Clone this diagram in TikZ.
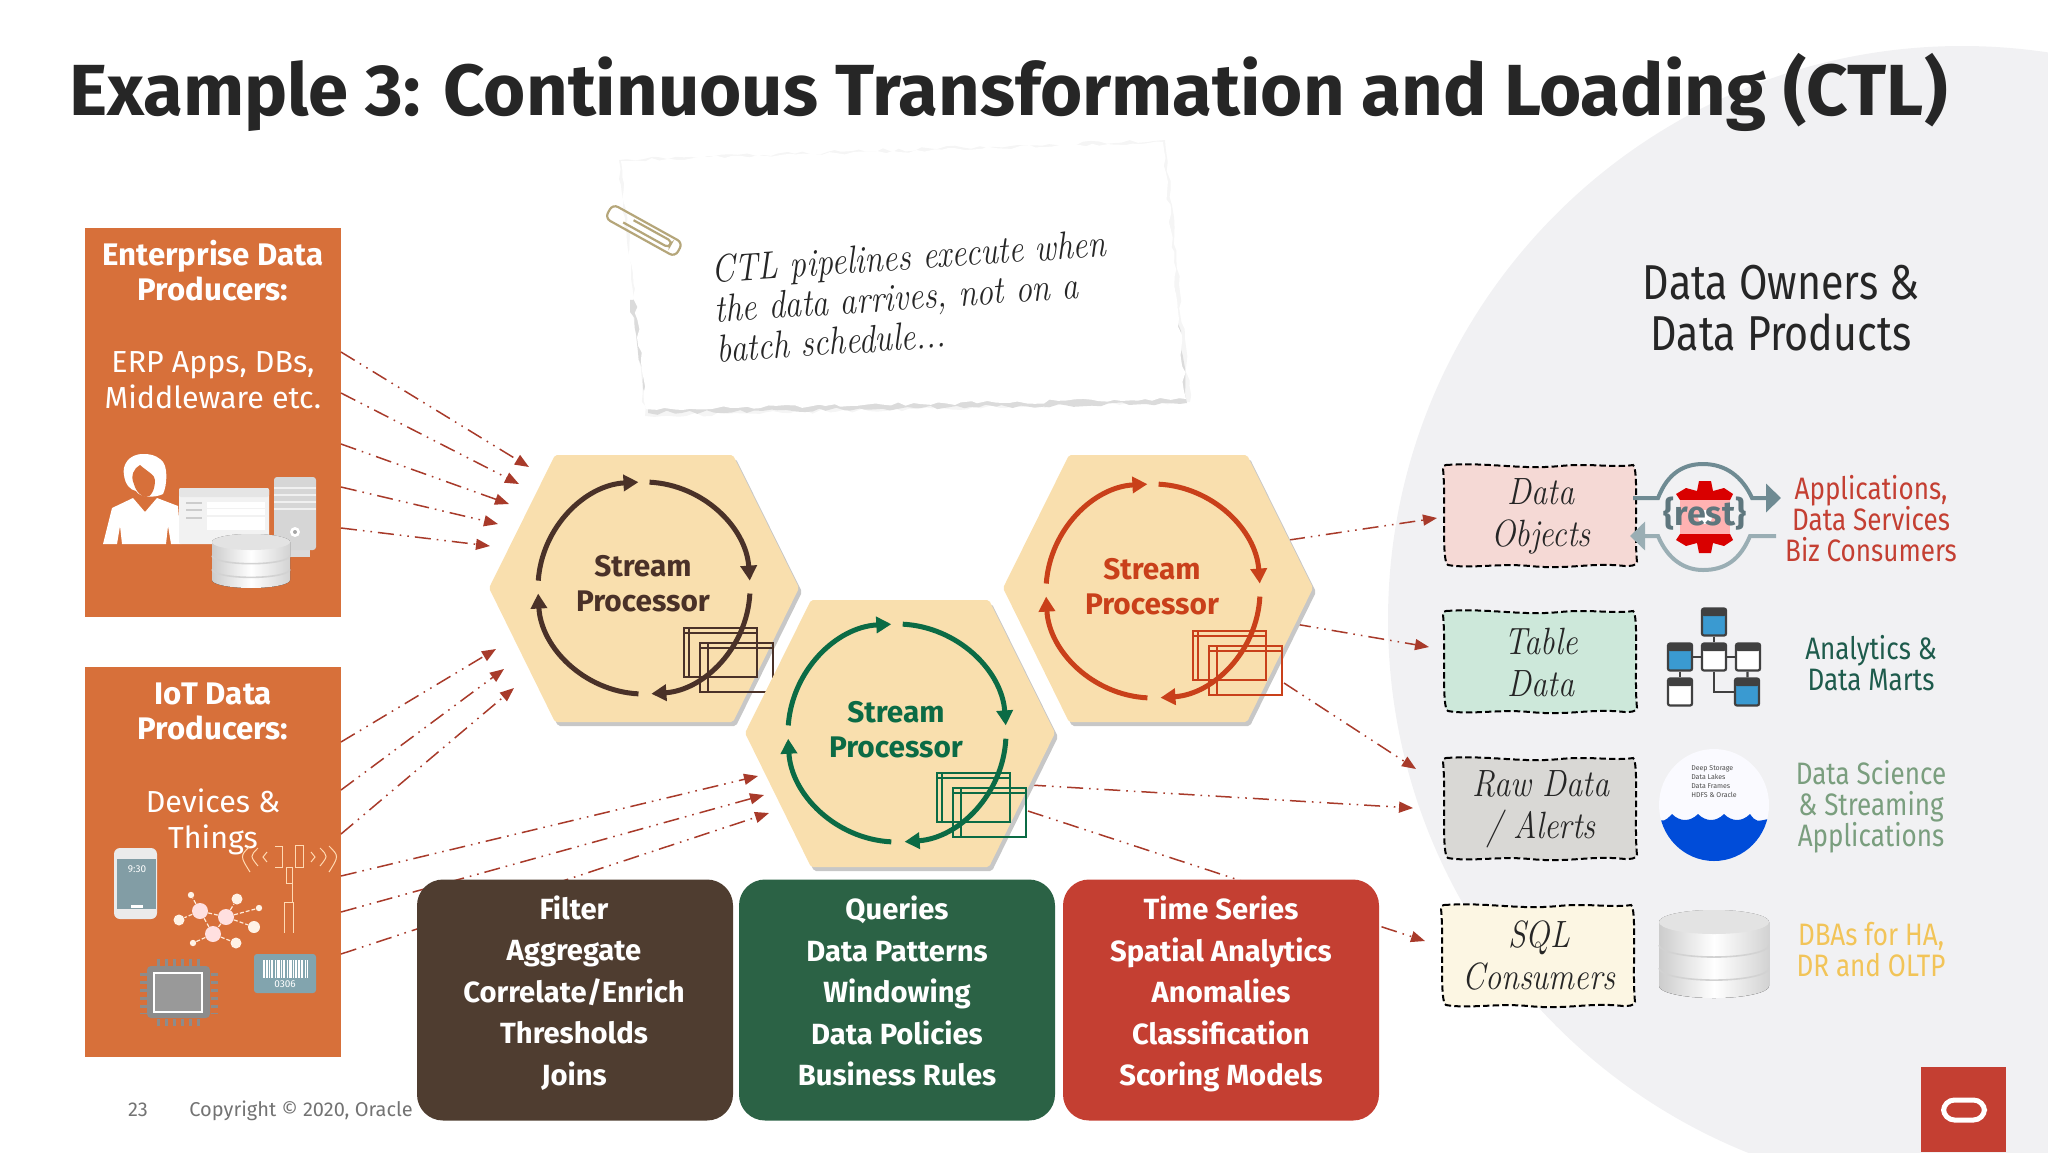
\documentclass[tikz,border=0pt]{standalone}
\usepackage{fontspec}
\setmainfont{Fira Sans}
\newfontfamily\handfont{Latin Modern Roman}[FakeStretch=0.85]
\newfontfamily\ownerfont{Fira Sans}[FakeStretch=0.84]
\usepackage{tikz}
\usetikzlibrary{arrows.meta}
\usetikzlibrary{calc}
\usetikzlibrary{decorations.pathmorphing}

\definecolor{producer_orange}{HTML}{D7703A}
\definecolor{hex_fill}{HTML}{F9DFAE}
\definecolor{flow_red}{HTML}{A83A2A}
\definecolor{sp_brown}{HTML}{4A3128}
\definecolor{sp_green}{HTML}{0B6B45}
\definecolor{sp_red}{HTML}{C9401A}
\definecolor{box_brown}{HTML}{4F3D30}
\definecolor{box_green}{HTML}{2B6245}
\definecolor{box_red}{HTML}{C43F32}
\definecolor{owner_gray}{HTML}{F1F1F3}
\definecolor{rest_teal}{HTML}{6F8B93}
\definecolor{net_blue}{HTML}{3A9AD1}
\definecolor{clip_tan}{HTML}{B5A67A}
\definecolor{label_teal}{HTML}{1E5B4C}
\definecolor{label_sage}{HTML}{7A9E7E}
\definecolor{label_gold}{HTML}{F2C458}
\definecolor{fill_pink}{HTML}{F5D9D5}
\definecolor{fill_mint}{HTML}{CDE8DA}
\definecolor{fill_stone}{HTML}{D9D8D5}
\definecolor{fill_cream}{HTML}{FCF6E3}
\definecolor{barcode_teal}{HTML}{82A4AE}

\newcommand{\streamhex}[6]{%
        \fill[hex_shadow] ($(#2)+(-152,4)$) -- ++(66,-133) -- ++(178,0) -- ++(66,133) -- ++(-66,134) -- ++(-178,0) -- cycle;
        \fill[hex_style] ($(#2)+(-155,0)$) -- ++(66,-133) -- ++(178,0) -- ++(66,133) -- ++(-66,134) -- ++(-178,0) -- cycle;
        \coordinate (#1) at (#3);
        \draw[loop_style,draw=#5] ($(#1)+(-87:#4)$) arc[start angle=-87,end angle=-4,radius=#4];
        \draw[loop_style,draw=#5] ($(#1)+(3:#4)$) arc[start angle=3,end angle=86,radius=#4];
        \draw[loop_style,draw=#5] ($(#1)+(93:#4)$) arc[start angle=93,end angle=177,radius=#4];
        \draw[loop_style,draw=#5] ($(#1)+(184:#4)$) arc[start angle=184,end angle=267,radius=#4];
        \node[processor_text,text=#5] (#1_text) at ($(#1)+(-1,#6)$) {Stream\\Processor};
        \draw[window_style,draw=#5] ($(#1)+(40,40)$) rectangle ($(#1)+(113,89)$);
        \draw[window_style,draw=#5] ($(#1)+(45,40)$) -- ($(#1)+(45,89)$) ($(#1)+(40,45)$) -- ($(#1)+(113,45)$);
        \draw[window_style,draw=#5] ($(#1)+(56,55)$) rectangle ($(#1)+(129,104)$);
        \draw[window_style,draw=#5] ($(#1)+(64,55)$) -- ($(#1)+(64,104)$) ($(#1)+(56,60)$) -- ($(#1)+(129,60)$);
}

\newcommand{\dbstack}[4]{%
        \begin{scope}[shift={(#1)}]
                \fill[left color=gray!40,right color=gray!35,middle color=white] (-#2,0) -- (-#2,#3) arc[start angle=180,end angle=0,x radius=#2,y radius=#4] -- (#2,0) arc[start angle=0,end angle=-180,x radius=#2,y radius=#4] -- cycle;
                \fill[gray!22] (0,0) ellipse[x radius=#2,y radius=#4];
                \draw[gray!35,line width=0.8pt] (-#2,#3*0.36) arc[start angle=180,end angle=0,x radius=#2,y radius=#4];
                \draw[gray!35,line width=0.8pt] (-#2,#3*0.72) arc[start angle=180,end angle=0,x radius=#2,y radius=#4];
        \end{scope}
}

\newcommand{\tablebox}[4]{%
        \node[table_body,fill=#4] (#1) at (#2,#3) {};
        \fill[black!75,rounded corners=1pt] (#2-12,#3-14) rectangle (#2+12,#3-6);
}

\newcommand{\wobblebox}[4]{%
        \begin{scope}[shift={(#2)}]
                \draw[wobble_style,fill=#3] (-94,-51) .. controls (-50,-54) and (-20,-46) .. (20,-50) .. controls (50,-53) and (75,-48) .. (93,-51) .. controls (99,-48) and (94,20) .. (97,46) .. controls (96,50) and (90,50) .. (85,50) .. controls (50,46) and (30,54) .. (-10,50) .. controls (-40,47) and (-70,53) .. (-92,49) .. controls (-99,47) and (-94,-20) .. (-97,-47) .. controls (-97,-50) and (-96,-51) .. (-94,-51) -- cycle;
                \node[hand_text] (#1) at (1,0) {#4};
        \end{scope}
}

\begin{document}
\begin{tikzpicture}[x=0.5pt,y=-0.5pt,
        hex_style/.style={fill=hex_fill,rounded corners=1pt},
        hex_shadow/.style={fill=black!22,rounded corners=1pt},
        loop_style/.style={line width=2.5pt,-{Triangle[length=7.5pt,width=8pt]}},
        window_style/.style={line width=0.7pt},
        processor_text/.style={align=center,font=\bfseries\fontsize{14.9}{17.5}\selectfont},
        flow_arrow/.style={draw=flow_red,line width=0.75pt,dash pattern=on 8pt off 3pt on 0.8pt off 3pt on 0.8pt off 3pt,-{Triangle[length=7pt,width=5.5pt]}},
        producer_box/.style={fill=producer_orange,minimum width=128pt,anchor=north west,inner sep=0pt},
        producer_head/.style={text=white,align=center,font=\bfseries\fontsize{15.6}{17.5}\selectfont},
        producer_body/.style={text=white,align=center,font=\fontsize{15.2}{18}\selectfont},
        task_box/.style={rounded corners=13pt,minimum width=158pt,minimum height=120.5pt,inner sep=0pt},
        task_text/.style={text=white,align=center,font=\bfseries\fontsize{14.6}{20.8}\selectfont},
        wobble_style/.style={draw=black,line width=1pt,dash pattern=on 3.2pt off 1.6pt},
        hand_text/.style={align=center,text=black!85,font=\handfont\itshape\fontsize{19}{21}\selectfont},
        owner_text/.style={align=center,font=\ownerfont\fontsize{15.5}{15.5}\selectfont},
        table_body/.style={draw=black!75,line width=1.1pt,rounded corners=1pt,minimum width=12pt,minimum height=13.5pt,inner sep=0pt},
        table_link/.style={draw=black!75,line width=1.1pt},
        net_big/.style={circle,fill=red!12!white,minimum size=8pt,inner sep=0pt},
        net_small/.style={circle,fill=white!90!orange,inner sep=0pt},
        net_link/.style={draw=white!85!orange,line width=0.6pt,dash pattern=on 2pt off 1pt},
        antenna_line/.style={draw=orange!30!white,line width=0.5pt}]

        \clip (0,0) rectangle (2048,1152);
        \useasboundingbox (0,0) rectangle (2048,1152);

        \fill[owner_gray] (1962,620) circle[radius=574];

        \node[anchor=base west,inner sep=0pt,text=black!85,font=\bfseries\fontsize{36.2}{40}\selectfont] (title) at (69,115) {Example 3: Continuous Transformation and Loading (CTL)};

        \node[anchor=base,text=black!55,font=\fontsize{10}{12}\selectfont] (page_no) at (138,1116) {23};
        \node[anchor=base west,inner sep=0pt,text=black!55,font=\fontsize{10}{12}\selectfont] (copyright) at (189,1116) {Copyright © 2020, Oracle};

        \pgfmathsetseed{7}
        \fill[black!4,decorate,decoration={random steps,segment length=4pt,amplitude=1pt}] (619,160) -- (1165,140) -- (1190,402) -- (645,416) -- cycle;
        \pgfmathsetseed{7}
        \fill[black!14,decorate,decoration={random steps,segment length=4pt,amplitude=1pt}] (630,300) -- (1175,290) -- (1187,403) -- (648,413) -- cycle;
        \pgfmathsetseed{9}
        \fill[white,decorate,decoration={random steps,segment length=4pt,amplitude=1pt}] (621,161) -- (1163,142) -- (1186,399) -- (646,409) -- cycle;
        \node[anchor=west,inner sep=0pt,rotate=3.8,align=left,text=black!85,font=\handfont\itshape\fontsize{19.5}{20}\selectfont] (note_text) at (714,309) {CTL pipelines execute when\\the data arrives, not on a\\batch schedule...};

        \draw[draw=clip_tan,line width=1.1pt,rounded corners=3pt,rotate around={-29:(643,230)}] (604,222) rectangle (684,238);
        \draw[draw=clip_tan,line width=1.1pt,rounded corners=2pt,rotate around={-29:(643,230)}] (630,226) -- (674,226) -- (674,233) -- (622,233);

        \node[producer_box,minimum height=194.5pt] (enterprise) at (85,228) {};
        \node[producer_box,minimum height=195pt] (iot) at (85,667) {};

        \node[producer_head] (enterprise_head) at (213,271) {Enterprise Data\\Producers:};
        \node[producer_body] (enterprise_body) at (213,380) {ERP Apps, DBs,\\Middleware etc.};
        \node[producer_head] (iot_head) at (213,711) {IoT Data\\Producers:};
        \node[producer_body] (iot_body) at (213,822) {Devices \&\\Things};

        \fill[white] (103,544) -- (112,508) -- (133,498) -- (145,512) -- (157,498) -- (178,506) -- (181,544) -- (171,544) -- (168,526) -- (166,544) -- (122,544) -- (120,526) -- (117,544) -- cycle;
        \fill[white] (143,454) .. controls (128,454) and (122,466) .. (124,475) .. controls (125,484) and (130,490) .. (136,491) .. controls (140,498) and (155,498) .. (163,494) .. controls (167,486) and (169,464) .. (160,459) .. controls (155,455) and (150,454) .. (143,454) -- cycle;
        \fill[producer_orange] (140,465) .. controls (134,468) and (130,476) .. (134,484) .. controls (136,492) and (142,497) .. (146,497) .. controls (151,497) and (155,490) .. (155,480) .. controls (155,475) and (148,472) .. (140,465) -- cycle;

        \fill[black!5,rounded corners=1pt] (179,488) rectangle (269,544);
        \fill[black!10,rounded corners=1pt] (179,488) rectangle (269,497);
        \fill[white] (207,502) rectangle (265,508);
        \fill[white] (207,509) rectangle (265,515);
        \fill[white] (207,517) rectangle (265,530);
        \fill[black!20] (186,502) rectangle (202,504);
        \fill[black!20] (186,509) rectangle (202,511);
        \fill[black!20] (186,517) rectangle (202,519);

        \fill[black!14] (278,540) rectangle (310,557);
        \fill[black!16,rounded corners=1.5pt] (274,477) rectangle (316,550);
        \draw[black!6,line width=1pt] (274,488) -- (316,488);
        \draw[black!6,line width=1pt] (274,495) -- (316,495);
        \draw[black!6,line width=1pt] (274,502) -- (316,502);
        \draw[black!6,line width=1pt] (274,509) -- (316,509);
        \fill[white] (295,532) circle[radius=5];
        \fill[black!35] (295,532) circle[radius=2];

        \dbstack{251,542}{39}{38}{8}

        \fill[black!8,rounded corners=3pt] (114,848) rectangle (157,919);
        \fill[barcode_teal!80!gray] (117,859) rectangle (156,909);
        \node[text=white,font=\fontsize{5}{6}\selectfont,inner sep=0pt] (phone_time) at (137,869) {9:30};
        \fill[white] (131,905) rectangle (143,908);

        \node[net_big] (hub_a) at (200,911) {};
        \node[net_big] (hub_b) at (226,917) {};
        \node[net_big] (hub_c) at (213,934) {};
        \node[net_small,minimum size=3.2pt] (leaf_a) at (191,895) {};
        \node[net_small,minimum size=5.5pt] (leaf_b) at (179,920) {};
        \node[net_small,minimum size=5.5pt] (leaf_c) at (237,899) {};
        \node[net_small,minimum size=3.2pt] (leaf_d) at (259,908) {};
        \node[net_small,minimum size=6pt] (leaf_e) at (254,927) {};
        \node[net_small,minimum size=5.5pt] (leaf_f) at (236,943) {};
        \node[net_small,minimum size=3.2pt] (leaf_g) at (193,943) {};
        \draw[net_link] (hub_a) -- (leaf_a);
        \draw[net_link] (hub_a) -- (leaf_b);
        \draw[net_link] (hub_a) -- (hub_b);
        \draw[net_link] (hub_a) -- (hub_c);
        \draw[net_link] (hub_b) -- (hub_c);
        \draw[net_link] (hub_b) -- (leaf_c);
        \draw[net_link] (hub_b) -- (leaf_d);
        \draw[net_link] (hub_b) -- (leaf_e);
        \draw[net_link] (hub_c) -- (leaf_f);
        \draw[net_link] (hub_c) -- (leaf_g);

        \draw[antenna_line] (275,846) -- (282,846) -- (282,867) -- (275,867);
        \draw[antenna_line] (295,845) rectangle (303,867);
        \draw[antenna_line] (286,867) rectangle (292,883);
        \draw[antenna_line] (292,883) -- (292,902);
        \draw[antenna_line] (284,933) -- (284,902) -- (293,902) -- (293,933);
        \draw[antenna_line] (250,846) .. controls (240,856) .. (250,872);
        \draw[antenna_line] (258,848) .. controls (250,856) .. (258,866);
        \draw[antenna_line] (267,852) -- (263,857) -- (267,862);
        \draw[antenna_line] (311,852) -- (315,857) -- (311,862);
        \draw[antenna_line] (320,848) .. controls (328,856) .. (320,866);
        \draw[antenna_line] (329,846) .. controls (339,856) .. (329,872);

        \draw[black!45,line width=3.5pt,dash pattern=on 1.6pt off 2.4pt] (157,962) -- (200,962);
        \draw[black!45,line width=3.5pt,dash pattern=on 1.6pt off 2.4pt] (157,1022) -- (200,1022);
        \draw[black!45,line width=3.5pt,dash pattern=on 1.6pt off 2.4pt] (143,973) -- (143,1014);
        \draw[black!45,line width=3.5pt,dash pattern=on 1.6pt off 2.4pt] (214,973) -- (214,1014);
        \fill[black!45,rounded corners=2pt] (147,966) rectangle (210,1018);
        \draw[white,fill=black!40,line width=1pt] (154,973) rectangle (202,1012);

        \fill[barcode_teal,rounded corners=1.5pt] (254,954) rectangle (316,993);
        \draw[white,line width=9pt,dash pattern=on 0.8pt off 0.5pt on 1.2pt off 0.6pt on 0.5pt off 0.5pt on 1pt off 0.8pt] (263,969) -- (307,969);
        \node[text=white,font=\fontsize{5}{6}\selectfont,inner sep=0pt] (barcode_no) at (285,984) {0306};

        \coordinate (ent_out_a) at (341,352);
        \coordinate (ent_out_b) at (341,393);
        \coordinate (ent_out_c) at (341,444);
        \coordinate (ent_out_d) at (341,487);
        \coordinate (ent_out_e) at (341,528);
        \coordinate (ent_in_a) at (529,467);
        \coordinate (ent_in_b) at (519,484);
        \coordinate (ent_in_c) at (509,504);
        \coordinate (ent_in_d) at (498,524);
        \coordinate (ent_in_e) at (490,546);
        \coordinate (iot_out_a) at (341,742);
        \coordinate (iot_out_b) at (341,790);
        \coordinate (iot_out_c) at (341,834);
        \coordinate (iot_out_d) at (341,876);
        \coordinate (iot_out_e) at (341,912);
        \coordinate (iot_out_f) at (341,954);
        \coordinate (iot_in_a) at (496,649);
        \coordinate (iot_in_b) at (504,669);
        \coordinate (iot_in_c) at (514,688);
        \coordinate (iot_in_d) at (758,776);
        \coordinate (iot_in_e) at (764,795);
        \coordinate (iot_in_f) at (769,813);

        \draw[flow_arrow] (ent_out_a) -- (ent_in_a);
        \draw[flow_arrow] (ent_out_b) -- (ent_in_b);
        \draw[flow_arrow] (ent_out_c) -- (ent_in_c);
        \draw[flow_arrow] (ent_out_d) -- (ent_in_d);
        \draw[flow_arrow] (ent_out_e) -- (ent_in_e);
        \draw[flow_arrow] (iot_out_a) -- (iot_in_a);
        \draw[flow_arrow] (iot_out_b) -- (iot_in_b);
        \draw[flow_arrow] (iot_out_c) -- (iot_in_c);
        \draw[flow_arrow] (iot_out_d) -- (iot_in_d);
        \draw[flow_arrow] (iot_out_e) -- (iot_in_e);
        \draw[flow_arrow] (iot_out_f) -- (iot_in_f);

        \coordinate (red_out_a) at (1289,540);
        \coordinate (red_out_b) at (1295,624);
        \coordinate (red_out_c) at (1284,683);
        \coordinate (green_out_a) at (1030,785);
        \coordinate (green_out_b) at (1028,811);
        \coordinate (objects_in) at (1437,518);
        \coordinate (table_in) at (1429,647);
        \coordinate (raw_in_a) at (1416,769);
        \coordinate (raw_in_b) at (1413,808);
        \coordinate (sql_in) at (1425,941);

        \draw[flow_arrow] (red_out_a) -- (objects_in);
        \draw[flow_arrow] (red_out_b) -- (table_in);
        \draw[flow_arrow] (red_out_c) -- (raw_in_a);
        \draw[flow_arrow] (green_out_a) -- (raw_in_b);
        \draw[flow_arrow] (green_out_b) -- (sql_in);

        \streamhex{stream_brown}{644,588}{644,588}{106}{sp_brown}{-4}
        \streamhex{stream_red}{1158,588}{1153,591}{107}{sp_red}{-4}
        \streamhex{stream_green}{900,733}{897,733}{109}{sp_green}{-3}

        \node[task_box,fill=box_brown] (brown_tasks) at (575,1000) {};
        \node[task_box,fill=box_green] (green_tasks) at (897,1000) {};
        \node[task_box,fill=box_red] (red_tasks) at (1221,1000) {};
        \node[task_text] (brown_text) at (574,993) {Filter\\Aggregate\\Correlate/Enrich\\Thresholds\\Joins};
        \node[task_text] (green_text) at (897,991) {Queries\\Data Patterns\\Windowing\\Data Policies\\Business Rules};
        \node[task_text] (red_text) at (1221,994) {Time Series\\Spatial Analytics\\Anomalies\\Classification\\Scoring Models};

        \node[align=center,text=black!85,font=\ownerfont\fontsize{24.5}{25.5}\selectfont] (owners_head) at (1781,308) {Data Owners \&\\Data Products};

        \wobblebox{objects_box}{1540,516}{fill_pink}{Data\\Objects}
        \wobblebox{table_box}{1540,662}{fill_mint}{Table\\Data}
        \wobblebox{raw_box}{1540,809}{fill_stone}{Raw Data\\/ Alerts}
        \wobblebox{sql_box}{1538,956}{fill_cream}{SQL\\Consumers}

        \fill[red!85!black] (1699,481) -- (1711,481) -- (1713,491) -- (1724,488) -- (1733,494) -- (1730,500) -- (1680,500) -- (1676,494) -- (1686,488) -- (1697,491) -- cycle;
        \fill[red!85!black] (1699,553) -- (1711,553) -- (1713,543) -- (1724,546) -- (1733,540) -- (1730,534) -- (1680,534) -- (1676,540) -- (1686,546) -- (1697,543) -- cycle;
        \fill[red!30!white] (1680,500) rectangle (1730,534);
        \fill[white] (1705,517) circle[radius=7];
        \node[text=rest_teal!85!black,font=\bfseries\fontsize{17}{20}\selectfont,inner sep=0pt] (rest_label) at (1705,514) {\{rest\}};
        \draw[rest_teal,line width=2pt,-{Triangle[length=7.5pt,width=14pt]}] (1633,498) -- (1658,498) .. controls (1668,472) and (1685,464) .. (1703,464) .. controls (1725,464) and (1742,476) .. (1752,498) -- (1781,498);
        \draw[rest_teal!70!white,line width=2pt,-{Triangle[length=7.5pt,width=14pt]}] (1776,536) -- (1750,536) .. controls (1740,560) and (1725,570) .. (1703,570) .. controls (1685,570) and (1668,560) .. (1658,536) -- (1630,536);

        \node[owner_text,text=box_red] (apps_text) at (1871,519) {Applications,\\Data Services\\Biz Consumers};
        \node[owner_text,text=label_teal] (analytics_text) at (1871,663) {Analytics \&\\Data Marts};
        \node[owner_text,text=label_sage] (science_text) at (1871,807) {Data Science\\\& Streaming\\Applications};
        \node[owner_text,text=label_gold] (dba_text) at (1871,950) {DBAs for HA,\\DR and OLTP};

        \tablebox{tbl_top}{1714}{622}{net_blue}
        \tablebox{tbl_left}{1680}{657}{net_blue}
        \tablebox{tbl_mid}{1714}{657}{white}
        \tablebox{tbl_right}{1748}{657}{white}
        \tablebox{tbl_low}{1680}{692}{white}
        \tablebox{tbl_end}{1747}{692}{net_blue}
        \draw[table_link] (tbl_top) -- (tbl_mid);
        \draw[table_link] (tbl_left) -- (tbl_mid);
        \draw[table_link] (tbl_mid) -- (tbl_right);
        \draw[table_link] (tbl_left) -- (tbl_low);
        \draw[table_link] (tbl_right) -- (tbl_end);
        \draw[table_link] (tbl_mid) |- (tbl_end);

        \fill[blue!2!white] (1714,805) ellipse[x radius=55,y radius=56];
        \begin{scope}
                \clip (1714,805) ellipse[x radius=55,y radius=56];
                \fill[blue!65!cyan!85!black] (1655,818) .. controls (1664,822) .. (1672,814) .. controls (1680,822) and (1690,822) .. (1698,814) .. controls (1706,822) and (1716,822) .. (1724,814) .. controls (1732,822) and (1742,822) .. (1750,814) .. controls (1756,822) .. (1772,818) -- (1772,870) -- (1655,870) -- cycle;
        \end{scope}
        \node[text=black!70,align=left,font=\fontsize{3.5}{4.5}\selectfont,inner sep=0pt] (lake_text) at (1714,782) {Deep Storage\\Data Lakes\\Data Frames\\HDFS \& Oracle};

        \dbstack{1714,922}{55}{64}{12}

        \fill[box_red] (1921,1067) rectangle (2006,1152);
        \node[draw=white,line width=2.5pt,rounded corners=5.5pt,minimum width=20.5pt,minimum height=10pt,inner sep=0pt] (oracle_logo) at (1964,1110) {};
\end{tikzpicture}
\end{document}
